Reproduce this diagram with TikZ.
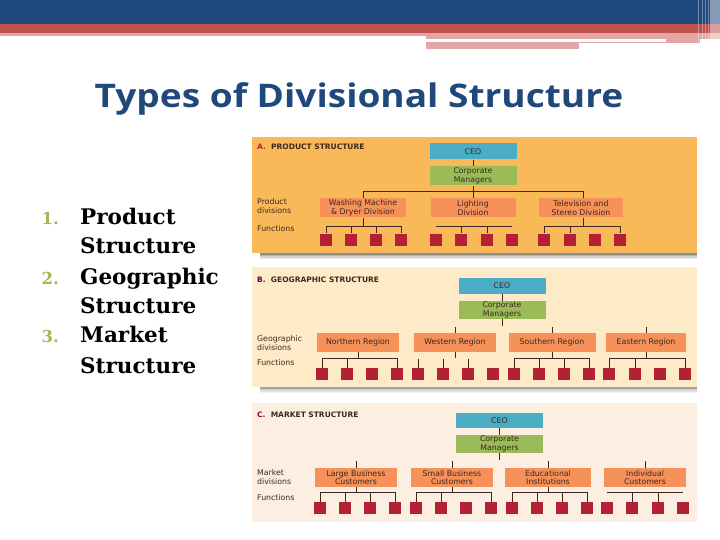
\documentclass[tikz,border=0pt]{standalone}
\usepackage{fontspec}
\setmainfont{DejaVu Sans}
\newfontfamily\listfont{DejaVu Serif}
\newfontfamily\titlefont{Open Sans}
\definecolor{hdblue}{RGB}{31,73,125}
\definecolor{hdred}{RGB}{192,80,77}
\definecolor{hdpink}{RGB}{226,166,165}
\definecolor{panelA}{RGB}{250,185,88}
\definecolor{panelB}{RGB}{253,234,198}
\definecolor{panelC}{RGB}{252,238,224}
\definecolor{ceoblue}{RGB}{75,172,198}
\definecolor{cmgreen}{RGB}{155,187,89}
\definecolor{divorange}{RGB}{246,145,90}
\definecolor{fnred}{RGB}{178,34,52}
\definecolor{linecol}{RGB}{60,40,30}
\definecolor{numgreen}{RGB}{155,187,89}

\begin{document}
\begin{tikzpicture}[x=1pt,y=-1pt,
	box/.style={inner sep=0pt, align=center, text=linecol, font=\fontsize{7.8}{8.8}\selectfont},
	ceobox/.style={box, fill=ceoblue, minimum width=87pt, minimum height=16pt},
	cmbox/.style={box, fill=cmgreen, minimum width=87pt, minimum height=19pt},
	divbox/.style={box, fill=divorange, minimum height=19pt},
	fn/.style={fill=fnred, inner sep=0pt, minimum width=12pt, minimum height=12pt},
	side/.style={anchor=west, align=left, inner sep=0pt, text=linecol, font=\fontsize{7.8}{8.8}\selectfont},
	ptitle/.style={anchor=west, inner sep=0pt, text=linecol, font=\bfseries\fontsize{7.5}{8.5}\selectfont},
	conn/.style={draw=linecol, line width=0.9pt},
	item/.style={anchor=base west, inner sep=0pt, font=\listfont\bfseries\fontsize{21.5}{24}\selectfont},
	num/.style={anchor=base east, inner sep=0pt, text=numgreen, font=\listfont\bfseries\fontsize{16.5}{18}\selectfont}]
\useasboundingbox (0,0) rectangle (720,540);

%----------------------------
% Header bars
%----------------------------
\fill[hdblue] (0,0) rectangle (720,24);
\fill[hdred] (0,24) rectangle (720,33);
\fill[hdpink] (0,33) rectangle (426,36);
\fill[hdpink] (426,33) rectangle (720,39);
\fill[hdpink] (426,42) rectangle (579,49);
\fill[hdpink] (579,42) rectangle (666,43);
\fill[hdpink] (666,39) rectangle (700,43);
% stripes at the right edge
\foreach \x in {698,702,705,708}
\fill[white,opacity=0.35] (\x,0) rectangle ++(1,46);
\fill[white,opacity=0.45] (710,0) rectangle (720,48);

% Title
\node[text=hdblue, font=\titlefont\bfseries\fontsize{32.5}{38}\selectfont, xscale=1.14] (title) at (359,99) {Types of Divisional Structure};

%----------------------------
% Left: list
%----------------------------
\node[num] (n1) at (59,225) {1.};
\node[item] (l1) at (80,225) {Product};
\node[item] (l2) at (80,253) {Structure};
\node[num] (n2) at (59,284) {2.};
\node[item] (l3) at (80,284) {Geographic};
\node[item] (l4) at (80,313) {Structure};
\node[num] (n3) at (59,342) {3.};
\node[item] (l5) at (80,342) {Market};
\node[item] (l6) at (80,373) {Structure};

%----------------------------
% A: product structure
%----------------------------
% shadow
\foreach \d/\o in {0/0.45,1.5/0.3,3/0.18,4.5/0.08}
\fill[black,opacity=\o] (260,253+\d) rectangle (697,254.5+\d);
\fill[panelA] (252,137) rectangle (697,253);
\node[ptitle] (atitle) at (257,147) {\textcolor{fnred}{A.}\ \ PRODUCT STRUCTURE};

\node[ceobox] (aceo) at (473,151.5) {CEO};
\node[cmbox] (acm) at (473,176) {Corporate\\Managers};
\node[divbox, minimum width=86pt] (adiv1) at (363,208) {Washing Machine\\\& Dryer Division};
\node[divbox, minimum width=85pt] (adiv2) at (473,208) {Lighting\\Division};
\node[divbox, minimum width=84pt] (adiv3) at (581,208) {Television and\\Stereo Division};

\node[side] (aside1) at (257,206) {Product\\divisions};
\node[side] (aside2) at (257,229) {Functions};

\foreach \x [count=\i] in {326,351,376,401,436,461,487,512,544,570,595,620}
\node[fn] (af\i) at (\x,239.5) {};

\draw[conn] (aceo) -- (acm);
\draw[conn] (acm) -- (adiv2);
\draw[conn] (adiv1.north) -- ++(0,-7) -| ([xshift=2pt]adiv3.north);
\draw[conn] (adiv1.south) -- ++(0,8);
\draw[conn] (af1.north) -- ++(0,-7) -| (af4.north);
\foreach \i in {2,3}
\draw[conn] (af\i.north) -- ++(0,-7);
\draw[conn] ([yshift=7pt]af5.north) -- ([yshift=7pt]af8.north);
\foreach \i in {6,7}
\draw[conn] (af\i.north) -- ++(0,-7);
\draw[conn] ([xshift=2pt]adiv3.south) -- ++(0,8);
\draw[conn] (af9.north) -- ++(0,-7) -| (af12.north);
\draw[conn] (af10.north) -- ++(0,-7);

%----------------------------
% B: geographic structure
%----------------------------
\foreach \d/\o in {0/0.35,1.5/0.22,3/0.12,4.5/0.05}
\fill[black,opacity=\o] (260,387+\d) rectangle (697,388.5+\d);
\fill[panelB] (252,267) rectangle (697,387);
\node[ptitle] (btitle) at (257,280) {\textcolor{violet!70!black}{B.}\ \ GEOGRAPHIC STRUCTURE};

\node[ceobox] (bceo) at (502,286) {CEO};
\node[cmbox, minimum height=18pt] (bcm) at (502,310) {Corporate\\Managers};
\node[divbox, minimum width=82pt] (bdiv1) at (358,342.5) {Northern Region};
\node[divbox, minimum width=82pt] (bdiv2) at (455,342.5) {Western Region};
\node[divbox, minimum width=87pt] (bdiv3) at (552,342.5) {Southern Region};
\node[divbox, minimum width=80pt] (bdiv4) at (646,342.5) {Eastern Region};

\node[side] (bside1) at (257,343) {Geographic\\divisions};
\node[side] (bside2) at (257,363) {Functions};

\foreach \x [count=\i] in {322,347,372,397,418,443,468,493,514,539,564,589,609,635,660,685}
\node[fn] (bf\i) at (\x,374) {};

\draw[conn] (bceo) -- (bcm);
\draw[conn] (bcm.south) -- ++(0,7);
\foreach \n in {2,3,4}
\draw[conn] (bdiv\n.north) -- ++(0,-6);
\draw[conn] (bdiv1.south) -- ++(0,7);
\draw[conn] (bf1.north) -- ++(0,-9) -| (bf4.north);
\draw[conn] (bf2.north) -- ++(0,-9);
\draw[conn] (bdiv2.south) -- ++(0,6);
\foreach \i in {5,6,7}
\draw[conn] (bf\i.north) -- ++(0,-9);
\draw[conn] (bdiv3.south) -- ++(0,7);
\draw[conn] (bf9.north) -- ++(0,-9) -| (bf12.north);
\foreach \i in {10,11}
\draw[conn] (bf\i.north) -- ++(0,-9);
\draw[conn] (bdiv4.south) -- ++(0,7);
\draw[conn] (bf13.north) -- ++(0,-9) -| (bf16.north);
\draw[conn] (bf14.north) -- ++(0,-9);

%----------------------------
% C: market structure
%----------------------------
\fill[panelC] (252,403) rectangle (697,522);
\node[ptitle] (ctitle) at (257,415) {\textcolor{purple!80!black}{C.}\ \ MARKET STRUCTURE};

\node[ceobox, minimum height=15pt] (cceo) at (499.5,420.5) {CEO};
\node[cmbox, minimum height=18pt] (ccm) at (499.5,444) {Corporate\\Managers};
\node[divbox, minimum width=82pt] (cdiv1) at (356,477.5) {Large Business\\Customers};
\node[divbox, minimum width=82pt] (cdiv2) at (452,477.5) {Small Business\\Customers};
\node[divbox, minimum width=86pt] (cdiv3) at (548,477.5) {Educational\\Institutions};
\node[divbox, minimum width=82pt] (cdiv4) at (645,477.5) {Individual\\Customers};

\node[side] (cside1) at (257,477) {Market\\divisions};
\node[side] (cside2) at (257,498) {Functions};

\foreach \x [count=\i] in {320,345,370,395,416,441,466,491,512,537,562,587,607,632,658,683}
\node[fn] (cf\i) at (\x,508) {};

\draw[conn] (cceo) -- (ccm);
\draw[conn] (ccm.south) -- ++(0,7);
\foreach \n in {1,2,3,4}
\draw[conn] (cdiv\n.north) -- ++(0,-7);
\draw[conn] (cdiv1.south) -- ++(0,6);
\draw[conn] (cf1.north) -- ++(0,-9) -| (cf4.north);
\foreach \i in {2,3}
\draw[conn] (cf\i.north) -- ++(0,-9);
\draw[conn] (cdiv2.south) -- ++(0,6);
\draw[conn] (cf5.north) -- ++(0,-9) -| (cf8.north);
\draw[conn] (cf6.north) -- ++(0,-9);
\draw[conn] (cdiv3.south) -- ++(0,6);
\draw[conn] (cf9.north) -- ++(0,-9) -| (cf12.north);
\foreach \i in {10,11}
\draw[conn] (cf\i.north) -- ++(0,-9);
\draw[conn] ([yshift=9pt]cf13.north) -- ([yshift=9pt]cf16.north);
\foreach \i in {14,15}
\draw[conn] (cf\i.north) -- ++(0,-9);
\end{tikzpicture}
\end{document}
